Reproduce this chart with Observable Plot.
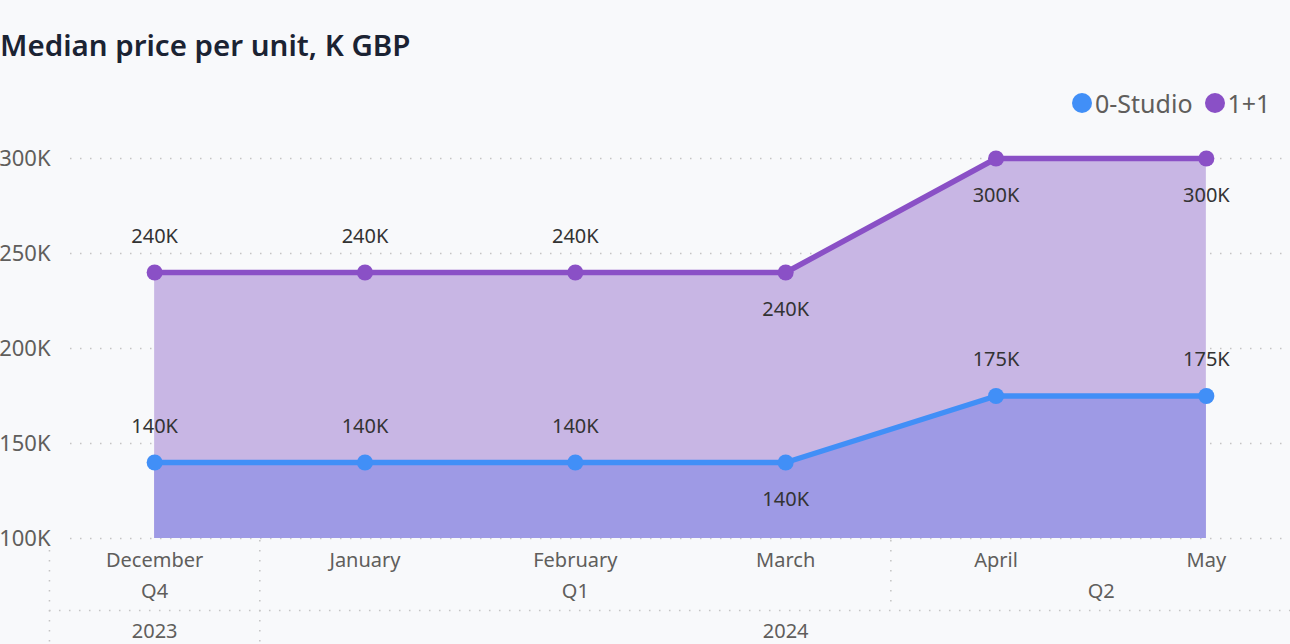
<!DOCTYPE html>
<html><head><meta charset="utf-8">
<script src="https://cdn.jsdelivr.net/npm/d3@7"></script>
<script src="https://cdn.jsdelivr.net/npm/@observablehq/plot@0.6"></script>
<style>
body{margin:0;background:#f8f9fb;font-family:"Noto Sans",sans-serif;}
#wrap{position:relative;width:1290px;height:644px;overflow:hidden;background:#f8f9fb;}
#title{position:absolute;left:0;top:25px;font-size:29.5px;font-weight:600;color:#1b2333;white-space:nowrap;line-height:40px;}
#legend{position:absolute;left:1072px;top:86px;display:flex;align-items:center;font-size:25px;color:#605e5c;line-height:34px;}
#legend .item{display:flex;align-items:center;margin-right:12px;}
#legend .sw{width:20px;height:20px;border-radius:50%;margin-right:3px;}
#chart{position:absolute;left:0;top:0;}
</style></head>
<body>
<div id="wrap">
  <div id="chart"></div>
  <div id="title">Median price per unit, K GBP</div>
  <div id="legend"></div>
</div>
<script>
// ---- data ----
const months = ["December","January","February","March","April","May"];
const quarters = ["Q4","Q1","Q1","Q1","Q2","Q2"];
const years = ["2023","2024","2024","2024","2024","2024"];
const seriesNames = ["0-Studio","1+1"];
const studioValues = [140,140,140,140,175,175];   // K GBP
const oneOneValues = [240,240,240,240,300,300];   // K GBP
const yTicks = [100,150,200,250,300];
const colors = {"0-Studio":"#418ff7","1+1":"#8a50c6"};
const areaColors = {"0-Studio":"#9e9ae5","1+1":"#c8b6e4"};

const yMin = 100, yMax = 300;
const toRows = (name, vals) => vals.map((v,i)=>({series:name, i, v, month:months[i]}));
const rowsS = toRows("0-Studio", studioValues);
const rowsO = toRows("1+1", oneOneValues);

// label placement: below when line rises next, or at top of axis
function labelRows(rows){
  return rows.map((r,k)=>{
    const next = rows[k+1];
    const below = (next && next.v > r.v) || r.v >= yMax;
    return {...r, dy: below ? 37 : -36};
  });
}
const lblS = labelRows(rowsS), lblO = labelRows(rowsO);

// groups of consecutive equal labels
function groups(arr){
  const out=[]; arr.forEach((l,i)=>{
    const last=out[out.length-1];
    if(last && last.label===l) last.end=i; else out.push({label:l,start:i,end:i});
  }); return out;
}
const qGroups = groups(quarters), yGroups = groups(years);
const yBounds = yGroups.slice(1).map(g=>g.start-0.5);
const qBounds = qGroups.slice(1).map(g=>g.start-0.5).filter(b=>!yBounds.includes(b));

const grid = {stroke:"#c4c4c4", strokeWidth:1.5, strokeDasharray:"1.5,8.5"};
const txt = {fontSize:20, fill:"#605e5c"};

const chart = Plot.plot({
  width:1290, height:644,
  marginTop:158, marginBottom:106, marginLeft:70, marginRight:0,
  style:{background:"transparent", fontFamily:"'Noto Sans', sans-serif", overflow:"visible"},
  x:{domain:[-0.4,5.4], axis:null},
  y:{domain:[yMin,yMax], axis:null},
  marks:[
    Plot.ruleY(yTicks, grid),
    Plot.axisY(yTicks, {tickSize:0, tickPadding:20, tickFormat:d=>d+"K", fontSize:22, fill:"#605e5c", label:null}),
    Plot.areaY(rowsO, {x:"i", y1:yMin, y2:"v", fill:areaColors["1+1"]}),
    Plot.areaY(rowsS, {x:"i", y1:yMin, y2:"v", fill:areaColors["0-Studio"]}),
    Plot.lineY(rowsO, {x:"i", y:"v", stroke:colors["1+1"], strokeWidth:5.5}),
    Plot.lineY(rowsS, {x:"i", y:"v", stroke:colors["0-Studio"], strokeWidth:5.5}),
    Plot.dot(rowsO, {x:"i", y:"v", r:8, fill:colors["1+1"]}),
    Plot.dot(rowsS, {x:"i", y:"v", r:8, fill:colors["0-Studio"]}),
    ...[...lblO, ...lblS].map(r => Plot.text([r], {x:"i", y:"v", dy:r.dy, text:d=>d.v+"K", fontSize:20, fill:"#333"})),
    // hierarchy axis
    Plot.text(months, {x:(d,i)=>i, frameAnchor:"bottom", dy:28, text:d=>d, ...txt}),
    Plot.text(qGroups, {x:g=>(g.start+g.end)/2, frameAnchor:"bottom", dy:59, text:"label", ...txt}),
    Plot.text(yGroups, {x:g=>(g.start+g.end)/2, frameAnchor:"bottom", dy:99, text:"label", ...txt}),
    Plot.ruleX([-0.5], {insetTop:392, insetBottom:-106, ...grid}),
    Plot.ruleX(yBounds, {insetTop:382, insetBottom:-106, ...grid}),
    Plot.ruleX(qBounds, {insetTop:382, insetBottom:-72, ...grid}),
    Plot.ruleY([yMin], {x1:-0.5, x2:5.4, dy:72, ...grid})
  ]
});
document.getElementById("chart").appendChild(chart);

const legend = document.getElementById("legend");
seriesNames.forEach(n=>{
  const it=document.createElement("div"); it.className="item";
  const sw=document.createElement("div"); sw.className="sw"; sw.style.background=colors[n];
  const t=document.createElement("span"); t.textContent=n;
  it.appendChild(sw); it.appendChild(t); legend.appendChild(it);
});
</script>
</body></html>
